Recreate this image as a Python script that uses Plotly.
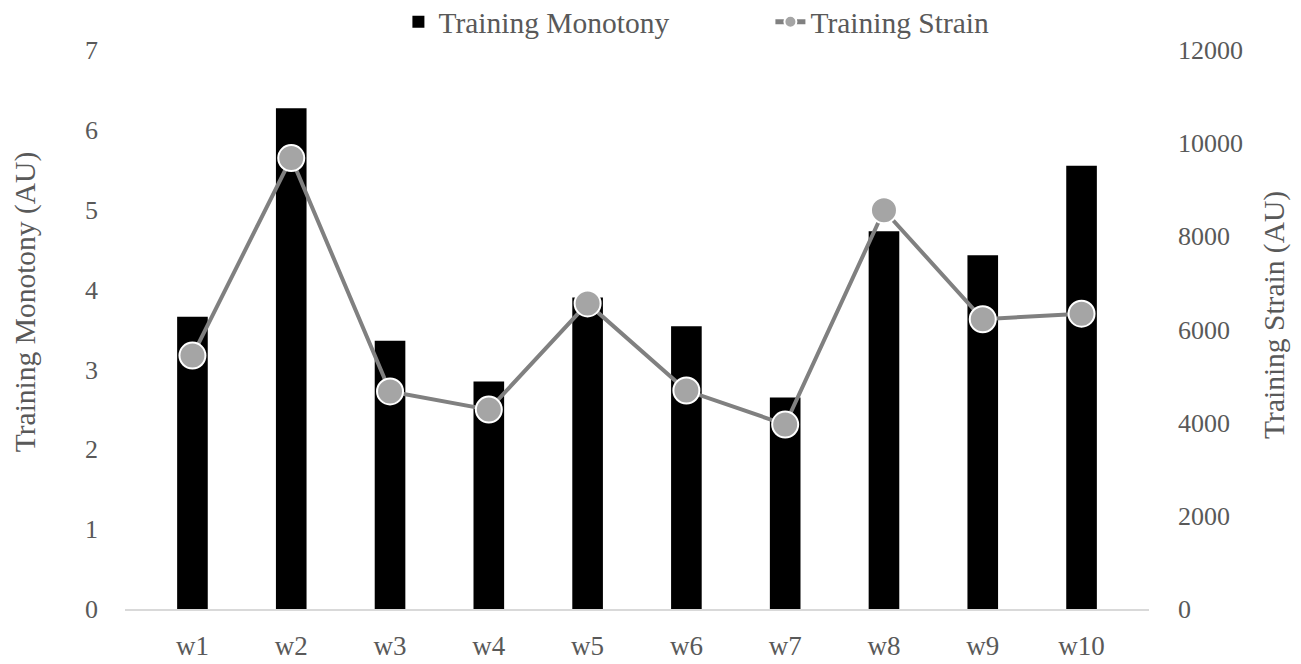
import plotly.graph_objects as go

weeks = ["w1", "w2", "w3", "w4", "w5", "w6", "w7", "w8", "w9", "w10"]
monotony = [3.66, 6.27, 3.36, 2.85, 3.90, 3.54, 2.65, 4.73, 4.43, 5.55]
strain = [5440, 9680, 4670, 4280, 6560, 4690, 3960, 8560, 6220, 6340]

FONT = "Liberation Serif"
GRAY = "#595959"
FS_TICK = 26
FS_TEXT = 29.5

fig = go.Figure()
fig.add_trace(go.Bar(
    x=weeks, y=monotony, name="Training Monotony",
    marker=dict(color="black", line=dict(width=0)),
    width=0.31, yaxis="y",
))
fig.add_trace(go.Scatter(
    x=weeks, y=strain, name="Training Strain", mode="lines+markers",
    line=dict(color="#808080", width=4),
    marker=dict(size=26, color="#a5a5a5", line=dict(color="white", width=2)),
    yaxis="y2",
))

fig.update_layout(
    width=1301, height=664,
    margin=dict(l=117, r=160, t=42, b=63, autoexpand=False),
    plot_bgcolor="white", paper_bgcolor="white",
    font=dict(family=FONT, size=FS_TEXT, color=GRAY),
    showlegend=True,
    legend=dict(orientation="h", x=0.267, xanchor="left", y=1.05, yanchor="middle",
                font=dict(size=FS_TEXT, color=GRAY), itemsizing="constant",
                entrywidth=327, traceorder="normal", bgcolor="rgba(0,0,0,0)"),
    xaxis=dict(showgrid=False, showline=True, linecolor="#d9d9d9", linewidth=1.5,
               ticks="", tickfont=dict(size=27, color=GRAY), zeroline=False,
               ticklabelstandoff=12, automargin=False),
    yaxis=dict(range=[0, 7], dtick=1, showgrid=False, zeroline=False, showline=False,
               ticks="", tickfont=dict(size=FS_TICK, color=GRAY), ticklabelstandoff=26,
               automargin=False),
    yaxis2=dict(range=[0, 12000], dtick=2000, overlaying="y", side="right",
                showgrid=False, zeroline=False, showline=False, ticks="",
                tickformat="d", automargin=False,
                tickfont=dict(size=FS_TICK, color=GRAY), ticklabelstandoff=28),
    annotations=[
        dict(text="Training Monotony (AU)", textangle=-90, xref="paper", yref="paper",
             x=-0.0975, y=0.549, xanchor="center", yanchor="middle", showarrow=False,
             font=dict(size=FS_TEXT, color=GRAY)),
        dict(text="Training Strain (AU)", textangle=-90, xref="paper", yref="paper",
             x=1.123, y=0.526, xanchor="center", yanchor="middle", showarrow=False,
             font=dict(size=FS_TEXT, color=GRAY)),
    ],
)

fig.write_html("out.html")
